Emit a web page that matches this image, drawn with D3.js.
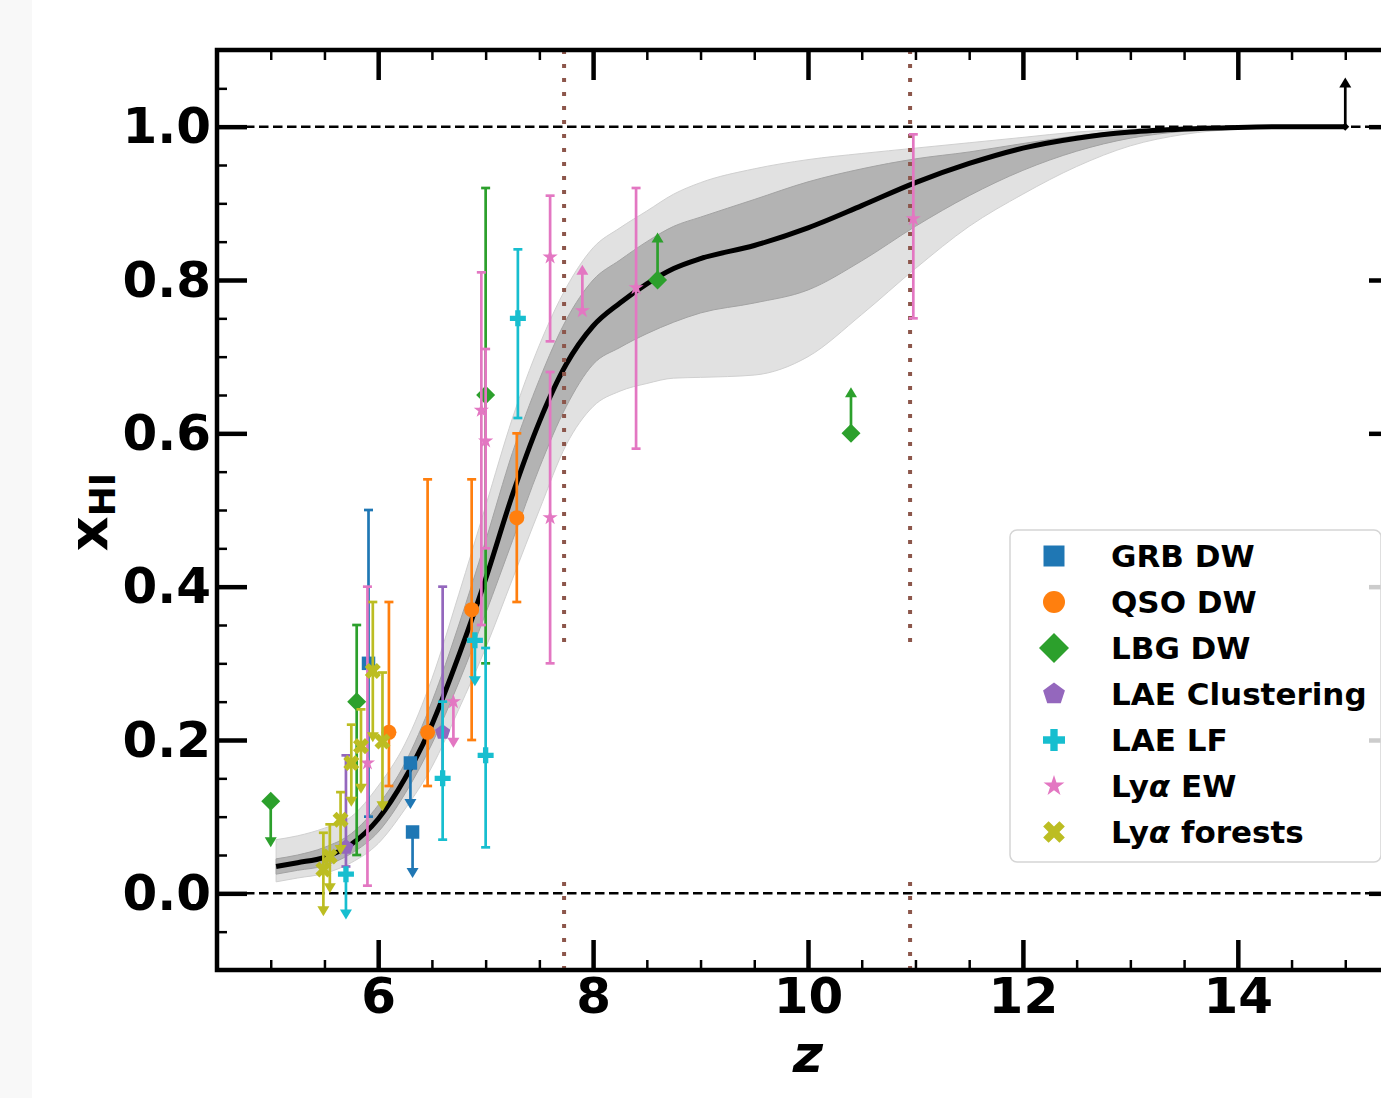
<!DOCTYPE html>
<html><head><meta charset="utf-8">
<script src="https://cdn.jsdelivr.net/npm/d3@7/dist/d3.min.js"></script>
<style>
html,body{margin:0;padding:0;background:#fff;overflow:hidden;}
svg{display:block;font-family:"DejaVu Sans",sans-serif;}
</style>
</head><body>
<svg id="chart" width="1381" height="1098"></svg>
<script>
// ---------------- data ----------------
const modelZ    = [5.05,5.25,5.5,5.75,6.0,6.25,6.5,6.75,7.0,7.25,7.5,7.75,8.0,8.25,8.5,8.75,9.0,9.5,10.0,10.5,11.0,11.5,12.0,12.5,13.0,13.5,14.0,14.5,15.0];
const modelMean = [0.035,0.040,0.047,0.064,0.097,0.150,0.220,0.310,0.410,0.520,0.615,0.690,0.740,0.770,0.795,0.815,0.828,0.845,0.868,0.897,0.927,0.952,0.972,0.985,0.993,0.997,0.999,1.0,1.0];
const modelLo1  = [0.025,0.030,0.036,0.052,0.080,0.130,0.195,0.275,0.365,0.460,0.555,0.635,0.690,0.712,0.730,0.745,0.757,0.770,0.787,0.825,0.870,0.910,0.943,0.968,0.985,0.994,0.998,1.0,1.0];
const modelHi1  = [0.045,0.050,0.060,0.078,0.115,0.170,0.250,0.350,0.460,0.575,0.670,0.748,0.800,0.826,0.850,0.870,0.882,0.905,0.928,0.945,0.958,0.967,0.978,0.988,0.995,0.998,1.0,1.0,1.0];
const modelLo2  = [0.015,0.020,0.026,0.040,0.065,0.110,0.165,0.240,0.320,0.410,0.500,0.585,0.635,0.655,0.665,0.672,0.673,0.676,0.700,0.755,0.815,0.870,0.912,0.948,0.975,0.990,0.997,1.0,1.0];
const modelHi2  = [0.070,0.075,0.085,0.100,0.140,0.195,0.280,0.390,0.505,0.620,0.715,0.790,0.842,0.868,0.890,0.912,0.927,0.945,0.957,0.965,0.972,0.979,0.986,0.993,0.997,0.999,1.0,1.0,1.0];

const xTicksMajor = [6, 8, 10, 12, 14];
const xTickLabels = ["6", "8", "10", "12", "14"];
const yTicksMajor = [0.0, 0.2, 0.4, 0.6, 0.8, 1.0];
const yTickLabels = ["0.0", "0.2", "0.4", "0.6", "0.8", "1.0"];
const refLinesY   = [0.0, 1.0];
const dottedZ     = [7.73, 10.95];

// z, value, lower end, upper end, arrow flags (limits)
const grbDW = [
  {z:5.91, v:0.30, lo:0.10, hi:0.50},
  {z:6.30, v:0.17, lo:0.11, loArrow:true},
  {z:6.32, v:0.08, lo:0.02, loArrow:true}
];
const qsoDW = [
  {z:6.10, v:0.21, lo:0.14, hi:0.38},
  {z:6.46, v:0.21, lo:0.14, hi:0.54},
  {z:6.87, v:0.37, lo:0.20, hi:0.54},
  {z:7.29, v:0.49, lo:0.38, hi:0.60}
];
const lbgDW = [
  {z:5.00, v:0.12, lo:0.06, loArrow:true},
  {z:5.80, v:0.25, lo:0.05, hi:0.35},
  {z:7.00, v:0.65, lo:0.30, hi:0.92},
  {z:8.60, v:0.80, hi:0.862, hiArrow:true},
  {z:10.40, v:0.60, hi:0.66, hiArrow:true}
];
const laeClustering = [
  {z:5.70, v:0.06, lo:0.035, hi:0.18},
  {z:6.60, v:0.21, lo:0.15, hi:0.40}
];
const laeLF = [
  {z:5.70, v:0.025, lo:-0.034, loArrow:true},
  {z:6.60, v:0.15, lo:0.07, hi:0.25},
  {z:6.90, v:0.33, lo:0.27, loArrow:true},
  {z:7.00, v:0.18, lo:0.06, hi:0.32},
  {z:7.30, v:0.75, lo:0.62, hi:0.84}
];
const lyaEW = [
  {z:5.90, v:0.17, lo:0.01, hi:0.40},
  {z:6.70, v:0.25, lo:0.19, loArrow:true},
  {z:6.96, v:0.63, lo:0.35, hi:0.81},
  {z:7.00, v:0.59, lo:0.45, hi:0.71},
  {z:7.60, v:0.83, lo:0.72, hi:0.91},
  {z:7.60, v:0.49, lo:0.30, hi:0.68},
  {z:7.90, v:0.76, hi:0.82, hiArrow:true},
  {z:8.40, v:0.79, lo:0.58, hi:0.92},
  {z:10.98, v:0.88, lo:0.75, hi:0.99}
];
const lyaForests = [
  {z:5.49, v:0.031, lo:-0.03, hi:0.079, loArrow:true},
  {z:5.55, v:0.048, lo:0.00, hi:0.09, loArrow:true},
  {z:5.65, v:0.096, lo:0.05, hi:0.132, loArrow:true},
  {z:5.75, v:0.17, lo:0.113, hi:0.22, loArrow:true},
  {z:5.84, v:0.192, lo:0.13, hi:0.24, loArrow:true},
  {z:5.95, v:0.29, lo:0.197, hi:0.38, loArrow:true},
  {z:6.04, v:0.198, lo:0.107, hi:0.288, loArrow:true}
];
const extraLimit = [ {z:15.0, v:1.0, hi:1.064, hiArrow:true} ];

const seriesNames  = ["GRB DW", "QSO DW", "LBG DW", "LAE Clustering", "LAE LF", "Lyα EW", "Lyα forests"];
const seriesData   = [grbDW, qsoDW, lbgDW, laeClustering, laeLF, lyaEW, lyaForests];
const seriesColors = ["#1f77b4", "#ff7f0e", "#2ca02c", "#9467bd", "#17becf", "#e377c2", "#bcbd22"];
const seriesShapes = ["square", "circle", "diamond", "pentagon", "plus", "star", "xfilled"];

// ---------------- layout ----------------
const svg = d3.select("#chart");
const L = 217, R = 1399, T = 50, B = 970;
const x = d3.scaleLinear().domain([4.5, 15.5]).range([L, R]);
const y = d3.scaleLinear().domain([-0.1, 1.1]).range([B, T]);

svg.append("rect").attr("x",0).attr("y",0).attr("width",1381).attr("height",1098).attr("fill","#fff");
svg.append("rect").attr("x",0).attr("y",0).attr("width",32).attr("height",1098).attr("fill","#f8f8f8");

svg.append("defs").append("clipPath").attr("id","plotclip")
  .append("rect").attr("x",L).attr("y",T).attr("width",R-L).attr("height",B-T);

const plot = svg.append("g").attr("clip-path","url(#plotclip)");

// bands
const idx = d3.range(modelZ.length);
const area = (lo, hi) => d3.area().x(i => x(modelZ[i])).y0(i => y(lo[i])).y1(i => y(hi[i])).curve(d3.curveMonotoneX);
plot.append("path").datum(idx).attr("d", area(modelLo2, modelHi2)).attr("fill","#e1e1e1").attr("stroke","#d0d0d0").attr("stroke-width",1);
plot.append("path").datum(idx).attr("d", area(modelLo1, modelHi1)).attr("fill","#b3b3b3").attr("stroke","#a3a3a3").attr("stroke-width",1);
plot.append("path").datum(idx)
  .attr("d", d3.line().x(i => x(modelZ[i])).y(i => y(modelMean[i])).curve(d3.curveMonotoneX))
  .attr("fill","none").attr("stroke","#000").attr("stroke-width",5);

// reference dashed lines
plot.selectAll(".ref").data(refLinesY).enter().append("line")
  .attr("x1",L).attr("x2",R).attr("y1",d=>y(d)).attr("y2",d=>y(d))
  .attr("stroke","#000").attr("stroke-width",2.5).attr("stroke-dasharray","9.5,4.5");

// dotted vertical lines (two segments each)
dottedZ.forEach(zv => {
  [[1.1, 0.315], [-0.1, 0.02]].forEach(([a,b]) => {
    plot.append("line").attr("x1",x(zv)).attr("x2",x(zv)).attr("y1",y(a)).attr("y2",y(b))
      .attr("stroke","#8c564b").attr("stroke-width",4).attr("stroke-dasharray","4,10");
  });
});

// marker shapes
function markerPath(shape, s) {
  const h = s/2;
  if (shape === "square") return `M${-h},${-h}H${h}V${h}H${-h}Z`;
  if (shape === "circle") return `M${h},0A${h},${h} 0 1 1 ${-h},0A${h},${h} 0 1 1 ${h},0Z`;
  if (shape === "diamond") return `M0,${-h}L${h},0L0,${h}L${-h},0Z`;
  if (shape === "pentagon") {
    return d3.range(5).map(k => { const a = -Math.PI/2 + k*2*Math.PI/5; return (k?"L":"M") + (h*Math.cos(a)).toFixed(2) + "," + (h*Math.sin(a)).toFixed(2); }).join("") + "Z";
  }
  if (shape === "star") {
    return d3.range(10).map(k => { const r = k%2 ? h*0.382 : h; const a = -Math.PI/2 + k*Math.PI/5; return (k?"L":"M") + (r*Math.cos(a)).toFixed(2) + "," + (r*Math.sin(a)).toFixed(2); }).join("") + "Z";
  }
  if (shape === "plus" || shape === "xfilled") {
    const t = s/6;
    return `M${-t},${-h}H${t}V${-t}H${h}V${t}H${t}V${h}H${-t}V${t}H${-h}V${-t}H${-t}Z`;
  }
  return "";
}
const plotSize = {square:13.5, circle:15, diamond:19, pentagon:16, plus:16, star:16, xfilled:17};
const legSize  = {square:21, circle:22, diamond:30, pentagon:23, plus:22, star:22, xfilled:23};

function drawSeries(g, data, color, shape, msize) {
  const eb = g.append("g");
  data.forEach(d => {
    const cx = x(d.z), cy = y(d.v);
    const ends = [];
    if (d.lo != null) ends.push([d.lo, !!d.loArrow, 1]);
    if (d.hi != null) ends.push([d.hi, !!d.hiArrow, -1]);
    ends.forEach(([val, arrow, dir]) => {
      const ey = y(val);
      eb.append("line").attr("x1",cx).attr("x2",cx).attr("y1",cy).attr("y2", arrow ? ey - dir*4 : ey)
        .attr("stroke",color).attr("stroke-width",2.7);
      if (arrow) {
        eb.append("path").attr("d", `M${cx-6},${ey-dir*10}L${cx+6},${ey-dir*10}L${cx},${ey}Z`).attr("fill",color);
      } else {
        eb.append("line").attr("x1",cx-4.5).attr("x2",cx+4.5).attr("y1",ey).attr("y2",ey)
          .attr("stroke",color).attr("stroke-width",2.7);
      }
    });
  });
  g.append("g").selectAll("path").data(data).enter().append("path")
    .attr("d", markerPath(shape, msize))
    .attr("transform", d => `translate(${x(d.z)},${y(d.v)})` + (shape==="xfilled" ? " rotate(45)" : ""))
    .attr("fill", color);
}

seriesData.forEach((data, i) => drawSeries(plot.append("g"), data, seriesColors[i], seriesShapes[i], plotSize[seriesShapes[i]]));
drawSeries(plot.append("g"), extraLimit, "#000", "diamond", 8);

// ---------------- axes ----------------
const minorX = d3.range(4.5, 15.51, 0.5).filter(v => xTicksMajor.indexOf(v) < 0);
const minorY = d3.range(-0.1, 1.1001, 0.05).map(v => +v.toFixed(2)).filter(v => yTicksMajor.indexOf(v) < 0 && v > -0.1 && v < 1.1);

function styleAxis(g, w) {
  g.select(".domain").remove();
  g.selectAll(".tick line").attr("stroke","#000").attr("stroke-width",w);
}
const fmtX = (d,i) => xTickLabels[i];
const fmtY = (d,i) => yTickLabels[i];

const axB = svg.append("g").attr("transform",`translate(0,${B})`)
  .call(d3.axisBottom(x).tickValues(xTicksMajor).tickFormat(fmtX).tickSize(-30).tickPadding(7));
styleAxis(axB, 4.5);
axB.selectAll("text").attr("font-size",50).attr("font-weight","bold").attr("fill","#000").attr("font-family","DejaVu Sans");
svg.append("g").attr("transform",`translate(0,${B})`).call(d3.axisBottom(x).tickValues(minorX).tickFormat("").tickSize(-10)).call(g=>styleAxis(g,2.5));

const axT = svg.append("g").attr("transform",`translate(0,${T})`).call(d3.axisTop(x).tickValues(xTicksMajor).tickFormat("").tickSize(-30));
styleAxis(axT, 4.5);
svg.append("g").attr("transform",`translate(0,${T})`).call(d3.axisTop(x).tickValues(minorX).tickFormat("").tickSize(-10)).call(g=>styleAxis(g,2.5));

const axL = svg.append("g").attr("transform",`translate(${L},0)`)
  .call(d3.axisLeft(y).tickValues(yTicksMajor).tickFormat(fmtY).tickSize(-30).tickPadding(6));
styleAxis(axL, 4.5);
axL.selectAll("text").attr("font-size",50).attr("font-weight","bold").attr("fill","#000").attr("font-family","DejaVu Sans");
svg.append("g").attr("transform",`translate(${L},0)`).call(d3.axisLeft(y).tickValues(minorY).tickFormat("").tickSize(-10)).call(g=>styleAxis(g,2.5));

svg.append("g").attr("transform",`translate(${R},0)`).call(d3.axisRight(y).tickValues(yTicksMajor).tickFormat("").tickSize(-30)).call(g=>styleAxis(g,4.5));
svg.append("g").attr("transform",`translate(${R},0)`).call(d3.axisRight(y).tickValues(minorY).tickFormat("").tickSize(-10)).call(g=>styleAxis(g,2.5));

// frame
svg.append("rect").attr("x",L).attr("y",T).attr("width",R-L).attr("height",B-T)
  .attr("fill","none").attr("stroke","#000").attr("stroke-width",4.5);

// axis labels
svg.append("text").attr("x", (L+R)/2).attr("y", 1072).attr("text-anchor","middle")
  .attr("font-size",52).attr("font-weight","bold").attr("font-style","italic").attr("fill","#000").text("z");
const yl = svg.append("text").attr("transform","translate(107,512) rotate(-90)").attr("text-anchor","middle")
  .attr("font-size",54).attr("font-weight","bold").attr("fill","#000");
yl.append("tspan").text("x");
yl.append("tspan").attr("font-size",36).attr("dy",8).text("HI");

// ---------------- legend ----------------
const lg = svg.append("g");
lg.append("rect").attr("x",1010).attr("y",530).attr("width",371).attr("height",332).attr("rx",7)
  .attr("fill","#fff").attr("fill-opacity",0.8).attr("stroke","#d5d5d5").attr("stroke-width",1.5);
seriesNames.forEach((name, i) => {
  const cy = 556 + i*46;
  const shape = seriesShapes[i];
  lg.append("path").attr("d", markerPath(shape, legSize[shape]))
    .attr("transform", `translate(1054,${cy})` + (shape==="xfilled" ? " rotate(45)" : ""))
    .attr("fill", seriesColors[i]);
  const t = lg.append("text").attr("x",1111).attr("y",cy+11).attr("font-size",31).attr("font-weight","bold").attr("fill","#000");
  if (name.indexOf("α") >= 0) {
    const parts = name.split("α");
    t.append("tspan").text(parts[0]);
    t.append("tspan").attr("font-style","italic").text("α");
    t.append("tspan").text(parts[1]);
  } else t.text(name);
});
</script>
</body></html>
